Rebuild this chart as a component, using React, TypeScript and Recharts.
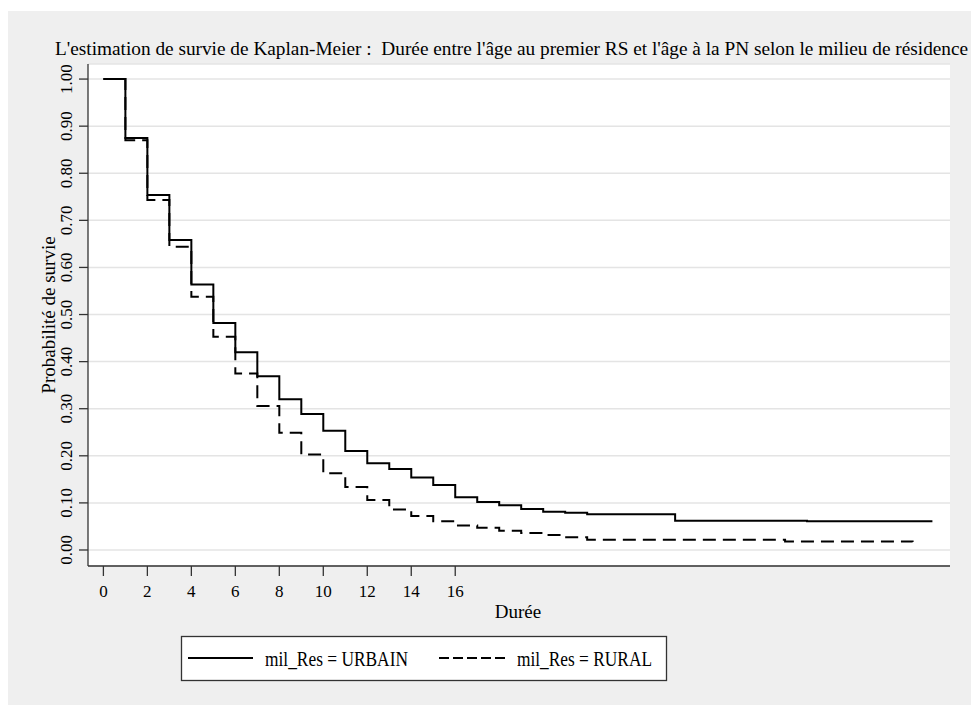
import React from 'react';
import { LineChart, Line, XAxis, YAxis, CartesianGrid } from 'recharts';

// Kaplan-Meier step data (time -> survival)
const TIMES_URBAIN = [0, 1, 2, 3, 4, 5, 6, 7, 8, 9, 10, 11, 12, 13, 14, 15, 16, 17, 18, 19, 20, 21, 22, 26, 32, 37.7];
const SURV_URBAIN = [1.0, 0.875, 0.754, 0.658, 0.564, 0.482, 0.42, 0.369, 0.32, 0.289, 0.253, 0.21, 0.184, 0.172, 0.154, 0.138, 0.112, 0.102, 0.095, 0.087, 0.081, 0.079, 0.076, 0.062, 0.061, 0.061];

const TIMES_RURAL = [0, 1, 2, 3, 4, 5, 6, 7, 8, 9, 10, 11, 12, 13, 14, 15, 16, 17, 18, 19, 20, 21, 22, 31, 36.8];
const SURV_RURAL = [1.0, 0.87, 0.743, 0.644, 0.538, 0.453, 0.375, 0.306, 0.249, 0.203, 0.163, 0.134, 0.106, 0.086, 0.072, 0.061, 0.052, 0.047, 0.041, 0.036, 0.032, 0.027, 0.022, 0.018, 0.017];

const X_TICKS = [0, 2, 4, 6, 8, 10, 12, 14, 16];
const Y_TICKS = [0, 0.1, 0.2, 0.3, 0.4, 0.5, 0.6, 0.7, 0.8, 0.9, 1.0];

const TITLE = "L'estimation de survie de Kaplan-Meier :  Durée entre l'âge au premier RS et l'âge à la PN selon le milieu de résidence";
const X_LABEL = 'Durée';
const Y_LABEL = 'Probabilité de survie';
const LEGEND_URBAIN = 'mil_Res = URBAIN';
const LEGEND_RURAL = 'mil_Res = RURAL';

const urbainData = TIMES_URBAIN.map((t, i) => ({ t, s: SURV_URBAIN[i] }));
const ruralData = TIMES_RURAL.map((t, i) => ({ t, s: SURV_RURAL[i] }));

const FONT = '"Liberation Serif", "Times New Roman", serif';
const W = 971;
const H = 694;

const YTick = (props: any) => {
  const { y, payload } = props;
  const x = 64.5;
  return (
    <text x={x} y={y} transform={`rotate(-90 ${x} ${y})`} textAnchor="middle" fontFamily={FONT} fontSize={17} fill="#000">
      {Number(payload.value).toFixed(2)}
    </text>
  );
};

const XTick = (props: any) => {
  const { x, payload } = props;
  return (
    <text x={x} y={586} textAnchor="middle" fontFamily={FONT} fontSize={17} fill="#000">
      {payload.value}
    </text>
  );
};

export default function App() {
  return (
    <div style={{ paddingTop: 3, background: '#fff' }}>
      <div style={{ position: 'relative', width: W, height: H, background: '#efefef', overflow: 'hidden' }}>
        <LineChart width={W} height={H} data={urbainData} margin={{ top: 53, right: 29, bottom: 79, left: 0 }}>
          <CartesianGrid vertical={false} stroke="#e4e4e4" strokeWidth={1.5} fill="#ffffff" fillOpacity={1} />
          <XAxis
            type="number"
            dataKey="t"
            domain={[-0.7, 38.5]}
            ticks={X_TICKS}
            allowDataOverflow
            height={60}
            tickSize={10}
            tick={<XTick />}
            axisLine={{ stroke: '#333', strokeWidth: 1.3 }}
            tickLine={{ stroke: '#333', strokeWidth: 1.3 }}
          />
          <YAxis
            type="number"
            domain={[-0.034, 1.032]}
            ticks={Y_TICKS}
            allowDataOverflow
            width={80}
            tickSize={9}
            tick={<YTick />}
            axisLine={{ stroke: '#333', strokeWidth: 1.3 }}
            tickLine={{ stroke: '#333', strokeWidth: 1.3 }}
          />
          <Line data={urbainData} dataKey="s" type="stepAfter" stroke="#000" strokeWidth={2} dot={false} isAnimationActive={false} />
          <Line data={ruralData} dataKey="s" type="stepAfter" stroke="#000" strokeWidth={2} strokeDasharray="13 7" dot={false} isAnimationActive={false} />
        </LineChart>
        <svg width={W} height={H} style={{ position: 'absolute', left: 0, top: 0, pointerEvents: 'none' }}>
          <text x={47} y={44} fontFamily={FONT} fontSize={19.3} fill="#000" style={{ whiteSpace: 'pre' }}>
            {TITLE}
          </text>
          <text x={47} y={304} transform="rotate(-90 47 304)" textAnchor="middle" fontFamily={FONT} fontSize={19} fill="#000">
            {Y_LABEL}
          </text>
          <text x={510} y={607} textAnchor="middle" fontFamily={FONT} fontSize={19} fill="#000">
            {X_LABEL}
          </text>
          <rect x={173.5} y={625.5} width={485} height={44} fill="#fff" stroke="#333" strokeWidth={1.3} />
          <line x1={180} x2={245} y1={647} y2={647} stroke="#000" strokeWidth={2} />
          <text x={257} y={655} fontFamily={FONT} fontSize={21} fill="#000" textLength={143} lengthAdjust="spacingAndGlyphs">
            {LEGEND_URBAIN}
          </text>
          <line x1={431} x2={497} y1={647} y2={647} stroke="#000" strokeWidth={2} strokeDasharray="10 4" />
          <text x={509} y={655} fontFamily={FONT} fontSize={21} fill="#000" textLength={135} lengthAdjust="spacingAndGlyphs">
            {LEGEND_RURAL}
          </text>
        </svg>
      </div>
    </div>
  );
}
